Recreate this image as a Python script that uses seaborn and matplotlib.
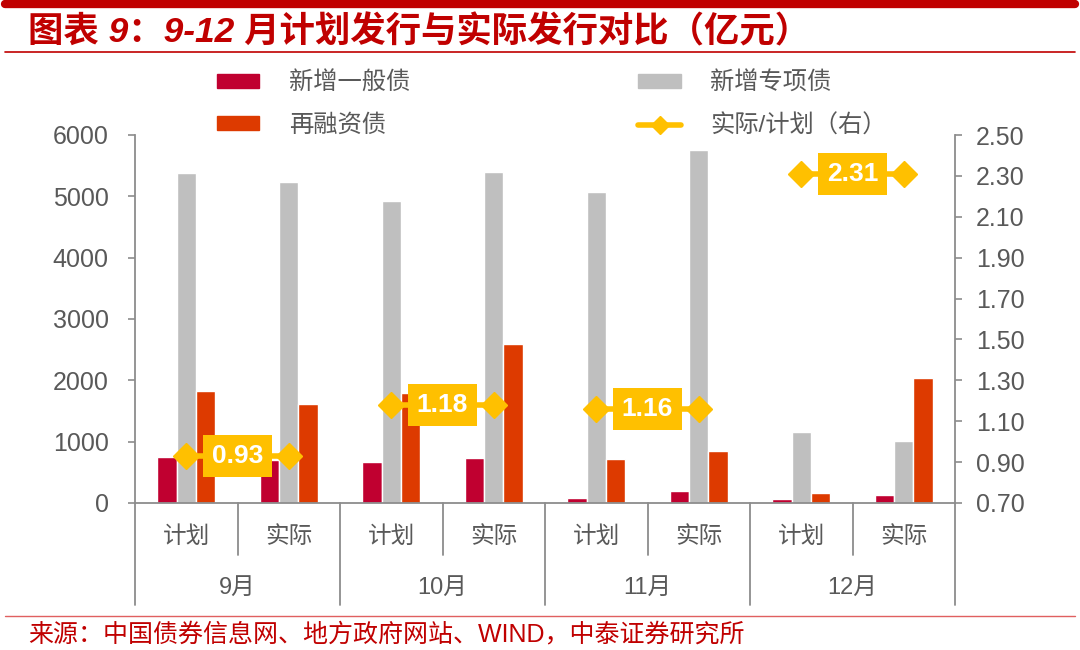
import matplotlib
matplotlib.use("Agg")
import matplotlib.pyplot as plt
import seaborn as sns
import pandas as pd
import numpy as np
from matplotlib.lines import Line2D
from matplotlib.patches import Patch
import matplotlib.transforms as mtransforms

# ---------------- data ----------------
months = ["9月", "10月", "11月", "12月"]
sub_labels = ["计划", "实际"]
categories = ["9月计划", "9月实际", "10月计划", "10月实际",
              "11月计划", "11月实际", "12月计划", "12月实际"]
series_names = ["新增一般债", "新增专项债", "再融资债"]
general_bond = [750, 700, 670, 730, 80, 190, 60, 130]
special_bond = [5380, 5235, 4925, 5400, 5070, 5755, 1160, 1010]
refinance_bond = [1820, 1620, 1795, 2595, 720, 850, 160, 2040]
ratio_name = "实际/计划（右）"
ratio = [0.93, 1.18, 1.16, 2.31]

colors = ["#C00030", "#BFBFBF", "#DD3A00"]
yellow = "#FFC000"
dark_red = "#C00000"
grey_txt = "#595959"
axis_grey = "#8C8C8C"

sns.set_theme(style="white")
plt.rcParams["font.family"] = ["Liberation Sans", "Noto Sans CJK SC"]

df = pd.DataFrame({
    "cat": categories * 3,
    "series": [series_names[0]] * 8 + [series_names[1]] * 8 + [series_names[2]] * 8,
    "value": general_bond + special_bond + refinance_bond,
})

fig = plt.figure(figsize=(10.8, 6.5), dpi=100)
ax = fig.add_axes([135 / 1080, 1 - 503 / 650, (955 - 135) / 1080, (503 - 135) / 650])

sns.barplot(data=df, x="cat", y="value", hue="series", order=categories,
            hue_order=series_names, palette=colors, width=0.57, gap=0,
            saturation=1, legend=False, ax=ax, errorbar=None)

ax.set_xlim(-0.5, 7.5)
ax.set_ylim(0, 6000)
ax.set_yticks(np.arange(0, 6001, 1000))
ax.set_xlabel("")
ax.set_ylabel("")
ax.set_xticks([])
for s in ["top", "right"]:
    ax.spines[s].set_visible(False)
for s in ["left", "bottom"]:
    ax.spines[s].set_color(axis_grey)
    ax.spines[s].set_linewidth(1.3)
ax.tick_params(axis="y", direction="out", length=5, width=1.2, color=axis_grey,
               labelsize=18, labelcolor=grey_txt, pad=14, left=True)

ax2 = ax.twinx()
ax2.set_ylim(0.7, 2.5)
ax2.set_yticks(np.arange(0.7, 2.51, 0.2))
ax2.set_yticklabels([f"{v:.2f}" for v in np.arange(0.7, 2.51, 0.2)])
for s in ["top", "left", "bottom"]:
    ax2.spines[s].set_visible(False)
ax2.spines["right"].set_color(axis_grey)
ax2.spines["right"].set_linewidth(1.3)
ax2.tick_params(axis="y", direction="out", length=5, width=1.2, color=axis_grey,
                labelsize=18, labelcolor=grey_txt, pad=10, right=True)
ax2.grid(False)
ax.grid(False)

# ratio line segments and labels
for i, r in enumerate(ratio):
    xs = [2 * i, 2 * i + 1]
    ax2.plot(xs, [r, r], color=yellow, lw=4, marker="D", markersize=13,
             solid_capstyle="butt", zorder=5)
    ax2.text(2 * i + 0.5, r, f"{r:.2f}", ha="center", va="center",
             fontsize=19, fontweight="bold", color="white", zorder=6,
             bbox=dict(boxstyle="square,pad=0.35", fc=yellow, ec="none"))

# category separators and labels below axis
trans = mtransforms.blended_transform_factory(ax.transData, ax.transAxes)
for k in range(9):
    xb = k - 0.5
    if k % 2 == 0:
        y1 = -(605 - 503) / 368
    else:
        y1 = -(555 - 503) / 368
    ax.plot([xb, xb], [0, y1], transform=trans, color=axis_grey, lw=1.3,
            clip_on=False)
for k, cat in enumerate(categories):
    ax.text(k, -(537 - 503) / 368, sub_labels[k % 2], transform=trans,
            ha="center", va="center", fontsize=17, color=grey_txt)
for m, mon in enumerate(months):
    ax.text(2 * m + 0.5, -(588 - 503) / 368, mon, transform=trans,
            ha="center", va="center", fontsize=17, color=grey_txt)

# legend
handles = [Patch(color=colors[0]), Patch(color=colors[2]),
           Patch(color=colors[1]),
           Line2D([0], [0], color=yellow, lw=4, marker="D", markersize=9)]
labels = [series_names[0], series_names[2], series_names[1], ratio_name]
fig.legend(handles, labels, ncol=2, loc="upper left",
           bbox_to_anchor=(195 / 1080, 1 - 50 / 650), frameon=False,
           fontsize=17.5, handlelength=1.75, handleheight=0.5,
           handletextpad=1.2, columnspacing=9.4, labelspacing=0.8,
           labelcolor=grey_txt)

# title and decorations
fig.add_artist(Line2D([5 / 1080, 1075 / 1080], [1 - 4 / 650, 1 - 4 / 650],
                      color=dark_red, lw=6))
fig.add_artist(Line2D([5 / 1080, 1075 / 1080], [1 - 52 / 650, 1 - 52 / 650],
                      color=dark_red, lw=1.2))
fig.text(28 / 1080, 1 - 32 / 650, "图表 9：9-12 月计划发行与实际发行对比（亿元）",
         ha="left", va="center", fontsize=25.5, fontweight="bold",
         fontstyle="italic", color=dark_red)
fig.add_artist(Line2D([5 / 1080, 1075 / 1080], [1 - 616 / 650, 1 - 616 / 650],
                      color="#E06060", lw=1.0))
fig.text(28 / 1080, 1 - 634 / 650, "来源：中国债券信息网、地方政府网站、WIND，中泰证券研究所",
         ha="left", va="center", fontsize=18, color=dark_red)

fig.savefig("out.png", dpi=100)
